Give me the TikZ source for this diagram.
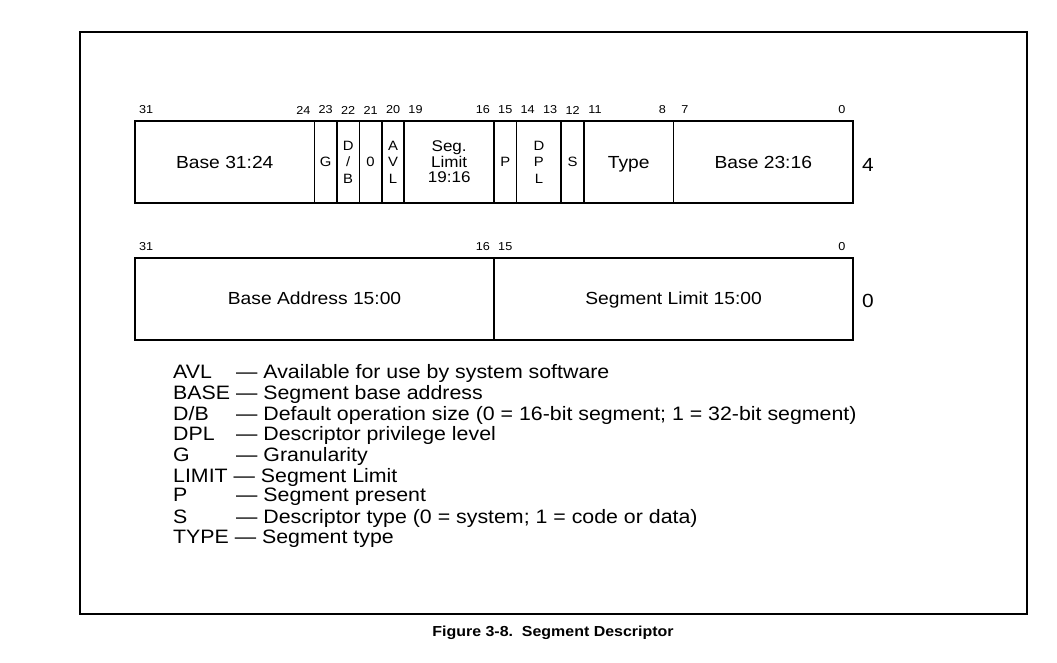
\documentclass[tikz,border=0pt]{standalone}
\usepackage{fontspec}
\setmainfont{Liberation Sans}[FakeStretch=1.1]
\usetikzlibrary{positioning}

\tikzset{
  box/.style={line width=1.8pt},
  bitnum/.style={inner sep=0pt,font=\fontsize{11.5}{13}\selectfont},
  field/.style={inner sep=0pt,align=center,text depth=0pt,font=\fontsize{17.5}{19}\selectfont},
  flag/.style={inner sep=0pt,align=center,font=\fontsize{13.5}{16.5}\selectfont},
  word/.style={inner sep=0pt,font=\fontsize{19}{20}\selectfont},
  legend/.style={inner sep=0pt,anchor=west,font=\fontsize{19.4}{20}\selectfont}
}
\newcommand{\legrow}[2]{\makebox[63pt][l]{#1}--- #2}

\begin{document}
\begin{tikzpicture}[x=1pt,y=-1pt]
\useasboundingbox (0,0) rectangle (1057,662);
\draw[line width=2.6pt] (80,32) rectangle (1027,614);

% upper doubleword (offset 4)
\begin{scope}[shift={(135,121)},x=22.44pt]
\draw[box] (0,0) rectangle (32,82);
\foreach \k in {8,9,10,11,12,16,17,19,20,24} {\draw[box] (\k,0) -- (\k,82);}
\foreach \b in {31,24,23,22,21,20,19,16,15,14,13,12,11,8,7,0} {\node[bitnum] (hi\b) at ({31.5-\b},-11) {\b};}
\node[field] (basehi) at (4,41) {Base 31:24};
\node[flag] (g) at (8.5,41) {G};
\node[flag] (db) at (9.5,41) {D\\/\\B};
\node[flag] (zero) at (10.5,41) {0};
\node[flag] (avl) at (11.5,41) {A\\V\\L};
\node[field,font=\fontsize{15.5}{15.5}\selectfont] (seglim) at (14,41) {Seg.\\Limit\\19:16};
\node[flag] (p) at (16.5,41) {P};
\node[flag] (dpl) at (18,41) {D\\P\\L};
\node[flag] (s) at (19.5,41) {S};
\node[field] (type) at (22,41) {Type};
\node[field] (basemid) at (28,41) {Base 23:16};
\end{scope}

% lower doubleword (offset 0)
\begin{scope}[shift={(135,258)},x=22.44pt]
\draw[box] (0,0) rectangle (32,82);
\draw[box] (16,0) -- (16,82);
\foreach \b in {31,16,15,0} {\node[bitnum] (lo\b) at ({31.5-\b},-11) {\b};}
\node[field] (baselo) at (8,40) {Base Address 15:00};
\node[field] (limlo) at (24,40) {Segment Limit 15:00};
\end{scope}

\node[word] (off4) at (868,165) {4};
\node[word] (off0) at (868,301) {0};

\node[legend] (lavl) at (173,373) {\legrow{AVL}{Available for use by system software}};
\node[legend] (lbase) at (173,394) {BASE --- Segment base address};
\node[legend] (ldb) at (173,415) {\legrow{D/B}{Default operation size (0 = 16-bit segment; 1 = 32-bit segment)}};
\node[legend] (ldpl) at (173,435) {\legrow{DPL}{Descriptor privilege level}};
\node[legend] (lg) at (173,456) {\legrow{G}{Granularity}};
\node[legend] (llimit) at (173,477) {LIMIT --- Segment Limit};
\node[legend] (lp) at (173,497) {\legrow{P}{Segment present}};
\node[legend] (ls) at (173,518) {\legrow{S}{Descriptor type (0 = system; 1 = code or data)}};
\node[legend] (ltype) at (173,539) {TYPE --- Segment type};

\node[inner sep=0pt,font=\fontsize{14.5}{16}\selectfont\bfseries] (caption) at (553,633) {Figure 3-8.\ \ Segment Descriptor};
\end{tikzpicture}
\end{document}
